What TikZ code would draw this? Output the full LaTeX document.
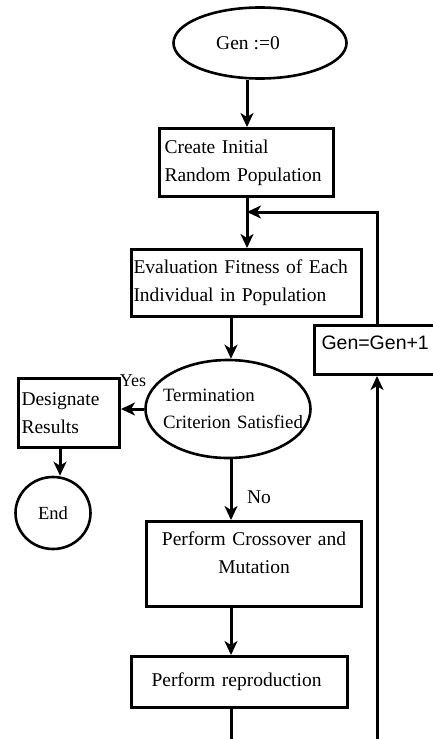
\documentclass[tikz,border=0pt]{standalone}
\usepackage{fontspec}
\setmainfont{Liberation Serif}
\setsansfont{Liberation Sans}
\usetikzlibrary{shapes.geometric,arrows.meta}
\begin{document}
\begin{tikzpicture}[x=1pt,y=-1pt,
  every node/.style={font=\fontsize{19.5}{28}\selectfont},
  box/.style={draw,line width=3pt,rectangle,anchor=north west,inner ysep=0pt},
  oval/.style={draw,line width=2.6pt,ellipse,inner sep=0pt},
  arr/.style={line width=3pt,-{Stealth[length=14pt,width=13pt,inset=4pt]}},
  plain/.style={line width=3pt},
  lbl/.style={inner sep=0pt}]
\useasboundingbox (0,0) rectangle (432,739);
\fill[white] (0,0) rectangle (432,739);
% columns
\coordinate (colA) at (247,0);
\coordinate (colB) at (231,0);
\coordinate (colR) at (377,0);
\coordinate (colD) at (60,0);
\coordinate (fb) at (247,212);
\coordinate (bot) at (0,745);
% nodes
\node[oval,minimum width=173pt,minimum height=71pt] (start) at (260,43) {Gen :=0\hspace*{24pt}};
\node[box,inner xsep=5pt,text width=164pt,minimum height=68pt,align=left] (create) at (158,127) {Create Initial\\Random Population};
\node[box,inner xsep=2pt,text width=226pt,minimum height=67pt,align=left] (eval) at (130,248) {Evaluation Fitness of Each\\Individual in Population};
\node[box,inner xsep=7pt,text width=118pt,minimum height=49pt,align=left,text depth=14pt,font=\sffamily\fontsize{19.5}{24}\selectfont] (gen) at (313,324) {Gen=Gen+1};
\node[oval,inner xsep=-35pt,text width=180pt,align=left,minimum width=165pt,minimum height=98pt,font=\fontsize{18.8}{27}\selectfont] (term) at (228,409) {\hspace*{25pt}Termination\\\hspace*{25pt}Criterion Satisfied};
\node[box,inner xsep=3pt,text width=95pt,minimum height=69pt,align=left] (des) at (17,377) {Designate\\Results};
\node[oval,minimum width=75pt,minimum height=72pt,font=\fontsize{18.5}{22}\selectfont] (end) at (53,513) {End};
\node[box,inner xsep=3pt,text width=209pt,minimum height=85pt,align=center] (cross) at (145,520) {Perform Crossover and\\Mutation\\[-6pt]~};
\node[box,inner xsep=20pt,text width=176pt,minimum height=51pt,align=left] (repro) at (130,655) {Perform reproduction};
% labels
\node[lbl,font=\fontsize{18}{20}\selectfont] (yes) at (133,381) {Yes};
\node[lbl] (no) at (259,497) {No};
% connectors
\draw[arr] (start.south -| colA) -- (create.north -| colA);
\draw[arr] (create.south -| colA) -- (eval.north -| colA);
\draw[arr] (gen.north -| colR) |- (fb);
\draw[arr] (eval.south -| colB) -- (term.north -| colB);
\draw[arr] (term.west) -- (des.east |- term.west);
\draw[arr] (des.south -| colD) -- (end.north -| colD);
\draw[arr] (term.south -| colB) -- (cross.north -| colB);
\draw[arr] (cross.south -| colB) -- (repro.north -| colB);
\draw[plain] (repro.south -| colB) -- (colB |- bot);
\draw[arr] (colR |- bot) -- (gen.south -| colR);
\end{tikzpicture}
\end{document}
